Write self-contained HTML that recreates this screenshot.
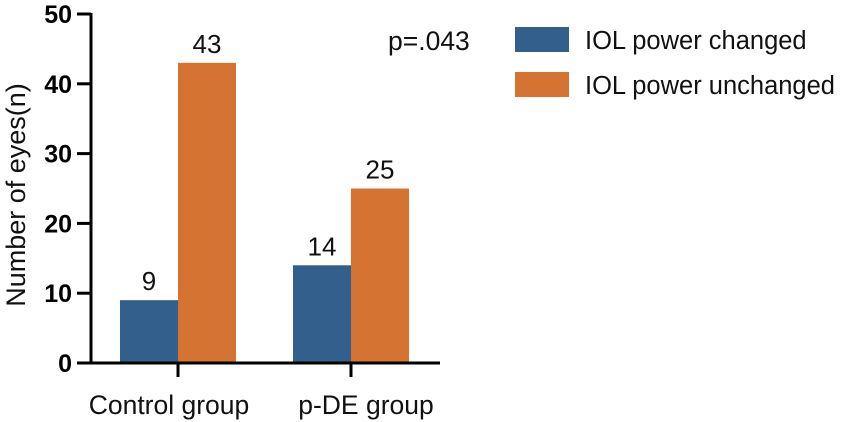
<!DOCTYPE html>
<html><head><meta charset="utf-8"><style>
html,body{margin:0;padding:0;background:#fff;width:850px;height:422px;overflow:hidden}
svg{display:block;font-family:"Liberation Sans",sans-serif}
</style></head><body>
<svg width="850" height="422">
<g id="chart"></g>
</svg>
<script>
const categories=["Control group","p-DE group"];
const changed=[9,14];
const unchanged=[43,25];
const yTicks=[0,10,20,30,40,50];
const seriesNames=["IOL power changed","IOL power unchanged"];
const colors=["#335f8c","#d57332"];
const NS="http://www.w3.org/2000/svg";
const g=document.getElementById("chart");
function el(t,a,txt){const e=document.createElementNS(NS,t);for(const k in a)e.setAttribute(k,a[k]);if(txt!==undefined)e.textContent=txt;g.appendChild(e);return e;}
const y0=363,ppu=6.98;
function Y(v){return y0-v*ppu;}
const groupCenters=[178,351];
const labelShift=[-9,15];
const bw=58;
function X(i){return groupCenters[i];}
const series=[changed,unchanged];
series.forEach((arr,s)=>{
  arr.forEach((v,i)=>{
    const x=s===0?X(i)-bw:X(i);
    const r=el("rect",{x:x,y:Y(v),width:bw,height:Y(0)-Y(v),fill:colors[s]});
    
    
    const t=el("text",{x:x+bw/2,y:Y(v)-10,"text-anchor":"middle","font-size":"26",fill:"#111"},String(v));
    
    
  });
});
const ya=el("line",{x1:91,y1:Y(50)-1,x2:91,y2:y0+1.5,stroke:"#000","stroke-width":3});


const xa=el("line",{x1:77,y1:y0,x2:440,y2:y0,stroke:"#000","stroke-width":3});


yTicks.forEach(v=>{
  el("line",{x1:77,y1:Y(v),x2:91,y2:Y(v),stroke:"#000","stroke-width":3});
  const t=el("text",{x:72,y:Y(v)+9,"text-anchor":"end","font-size":"25","font-weight":"bold",fill:"#000"},String(v));
  
  
});
categories.forEach((c,i)=>{
  el("line",{x1:X(i),y1:y0,x2:X(i),y2:y0+14,stroke:"#000","stroke-width":3});
  const t=el("text",{x:X(i)+labelShift[i],y:414,"text-anchor":"middle","font-size":"26.5",fill:"#111"},c);
  
  
});
const yt=el("text",{x:0,y:0,"text-anchor":"middle","font-size":"27",fill:"#111",transform:"translate(25,195) rotate(-90)"},"Number of eyes(n)");


const p=el("text",{x:388,y:50,"font-size":"26.5",fill:"#111"},"p=.043");


seriesNames.forEach((n,s)=>{
  const yy=27+s*45;
  const r=el("rect",{x:515,y:yy,width:54,height:25,fill:colors[s]});
  
  
  const t=el("text",{x:585,y:yy+22,"font-size":"25.5",fill:"#111"},n);
  
  
});
</script>
</body></html>
